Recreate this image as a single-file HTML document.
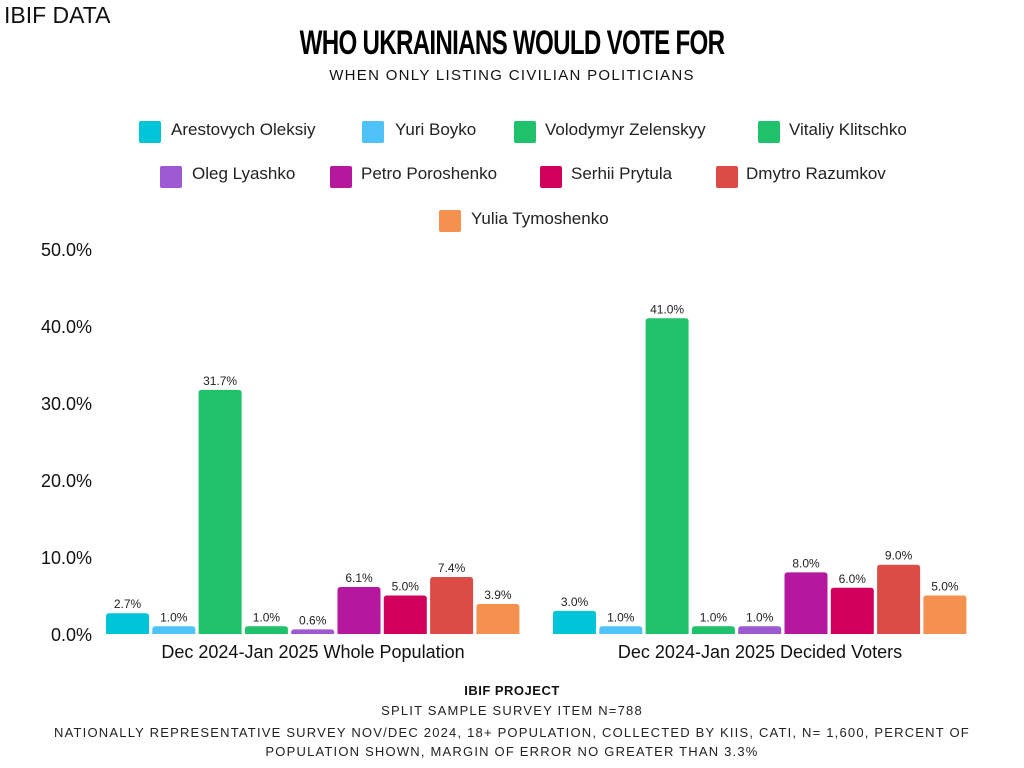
<!DOCTYPE html>
<html><head><style>
body{margin:0;width:1024px;height:768px;background:#fff;position:relative;font-family:"Liberation Sans",sans-serif;overflow:hidden}
.a{position:absolute;white-space:nowrap}
.sw{position:absolute;width:22px;height:22px;border-radius:2px}
.lg{position:absolute;font-size:17px;color:#222}
</style></head><body>
<div class="a" style="left:4px;top:2px;font-size:23px;color:#111">IBIF DATA</div>
<div class="a" style="left:0;width:1024px;text-align:center;top:24px;font-size:34px;font-weight:bold;color:#000;transform:scaleX(0.71);letter-spacing:-1px">WHO UKRAINIANS WOULD VOTE FOR</div>
<div class="a" style="left:0;width:1024px;text-align:center;top:67px;font-size:15px;color:#111;letter-spacing:1.3px">WHEN ONLY LISTING CIVILIAN POLITICIANS</div>

<div class="sw" style="left:139px;top:121px;background:#00C5D8"></div><div class="lg" style="left:171px;top:120px">Arestovych Oleksiy</div>
<div class="sw" style="left:362px;top:121px;background:#4FC3F7"></div><div class="lg" style="left:395px;top:120px">Yuri Boyko</div>
<div class="sw" style="left:514px;top:121px;background:#1FC16B"></div><div class="lg" style="left:545px;top:120px">Volodymyr Zelenskyy</div>
<div class="sw" style="left:758px;top:121px;background:#1FC16B"></div><div class="lg" style="left:789px;top:120px">Vitaliy Klitschko</div>
<div class="sw" style="left:160px;top:166px;background:#9C59D1"></div><div class="lg" style="left:192px;top:164px">Oleg Lyashko</div>
<div class="sw" style="left:330px;top:166px;background:#B5179E"></div><div class="lg" style="left:361px;top:164px">Petro Poroshenko</div>
<div class="sw" style="left:540px;top:166px;background:#D1005B"></div><div class="lg" style="left:571px;top:164px">Serhii Prytula</div>
<div class="sw" style="left:716px;top:166px;background:#DC4C47"></div><div class="lg" style="left:746px;top:164px">Dmytro Razumkov</div>
<div class="sw" style="left:439px;top:210px;background:#F4914F"></div><div class="lg" style="left:471px;top:209px">Yulia Tymoshenko</div>

<svg class="a" style="left:0;top:0" width="1024" height="768">
<g font-family="Liberation Sans" font-size="18" fill="#111" text-anchor="end">
<text x="92" y="256">50.0%</text><text x="92" y="333">40.0%</text><text x="92" y="410">30.0%</text><text x="92" y="487">20.0%</text><text x="92" y="564">10.0%</text><text x="92" y="641">0.0%</text>
</g>
<g id="bars" font-family="Liberation Sans" font-size="12" fill="#222" text-anchor="middle"></g>
<g font-family="Liberation Sans" font-size="18" fill="#111" text-anchor="middle">
<text x="313" y="658">Dec 2024-Jan 2025 Whole Population</text>
<text x="760" y="658">Dec 2024-Jan 2025 Decided Voters</text>
</g>
</svg>
<script>
var c=["#00C5D8","#4FC3F7","#1FC16B","#1FC16B","#9C59D1","#B5179E","#D1005B","#DC4C47","#F4914F"];
var d=[[2.7,1.0,31.7,1.0,0.6,6.1,5.0,7.4,3.9],[3.0,1.0,41.0,1.0,1.0,8.0,6.0,9.0,5.0]];
var g=document.getElementById("bars"),h="";
for(var k=0;k<2;k++)for(var i=0;i<9;i++){var x=106+k*447+i*46.3,v=d[k][i],hh=v*7.7,y=634-hh;
h+='<path d="M'+x+' 634V'+(y+3)+'q0 -3 3 -3h37q3 0 3 3V634Z" fill="'+c[i]+'"/>';
h+='<text x="'+(x+21.5)+'" y="'+(y-5)+'">'+v.toFixed(1)+'%</text>';}
g.innerHTML=h;
</script>
<div class="a" style="left:0;width:1024px;text-align:center;top:683px;font-size:13px;font-weight:bold;color:#111;letter-spacing:0.5px">IBIF PROJECT</div>
<div class="a" style="left:0;width:1024px;text-align:center;top:703px;font-size:13px;color:#222;letter-spacing:1.2px">SPLIT SAMPLE SURVEY ITEM N=788</div>
<div class="a" style="left:0;width:1024px;text-align:center;top:723px;font-size:13px;color:#222;letter-spacing:1.2px;white-space:normal;line-height:19px">NATIONALLY REPRESENTATIVE SURVEY NOV/DEC 2024, 18+ POPULATION, COLLECTED BY KIIS, CATI, N= 1,600, PERCENT OF<br>POPULATION SHOWN, MARGIN OF ERROR NO GREATER THAN 3.3%</div>
</body></html>
